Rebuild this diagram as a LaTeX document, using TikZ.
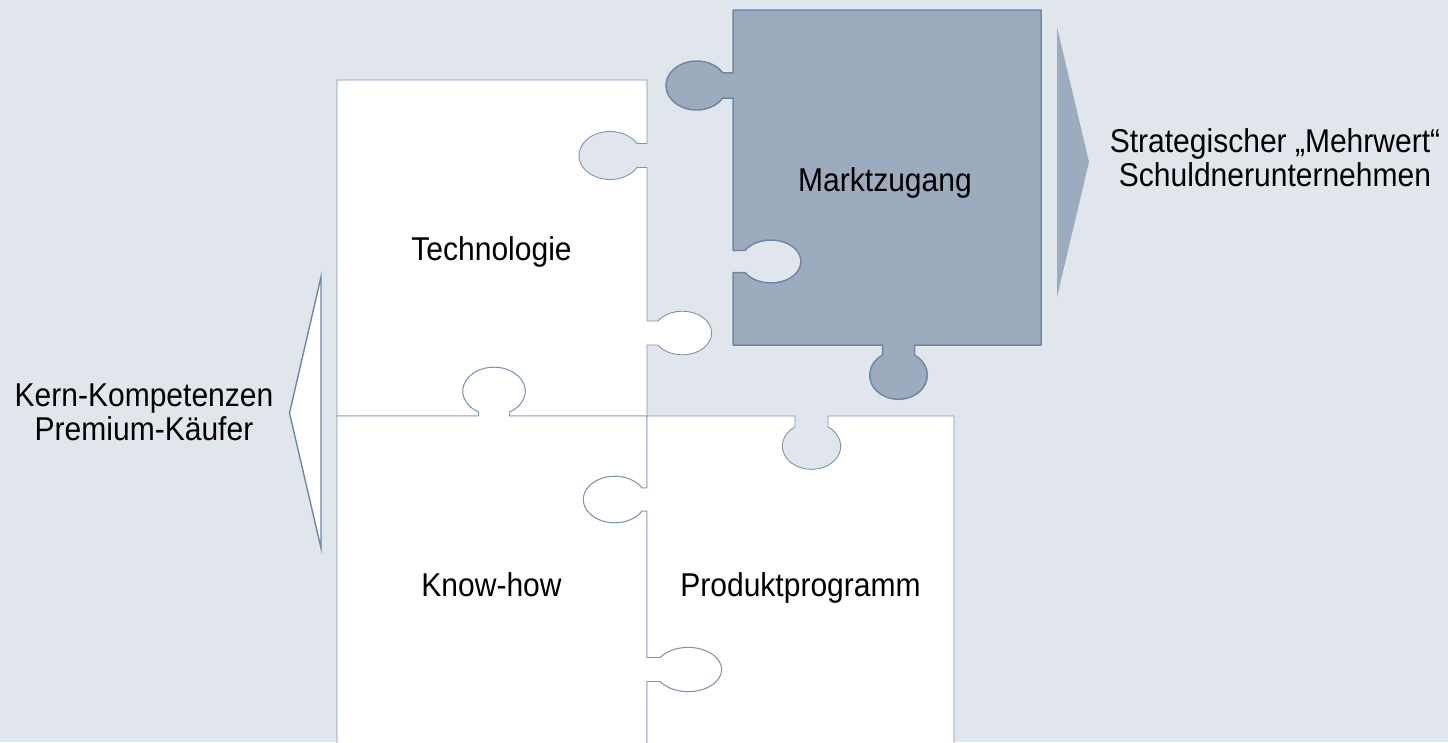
\documentclass[tikz,border=0pt]{standalone}
\usepackage{fontspec}
\setmainfont{Liberation Sans}[FakeStretch=0.91]
\definecolor{bgc}{HTML}{E1E6EC}
\definecolor{darkfill}{HTML}{9DABBE}
\definecolor{darkline}{HTML}{6F87A5}
\definecolor{pieceline}{HTML}{7D93B0}
\begin{document}
\begin{tikzpicture}[x=1pt,y=1pt,
  lbl/.style={font=\fontsize{33}{34}\selectfont, inner sep=0pt, align=center, text=black},
  whitepiece/.style={fill=white, draw=pieceline, line width=0.9pt, line join=round},
  darkpiece/.style={fill=darkfill, draw=darkline, line width=1.5pt, line join=round},
  leftarrow/.style={fill=white, draw=darkline, line width=1.4pt, line join=miter},
  rightarrow/.style={fill=darkfill}]
\fill[bgc] (0,0) rectangle (1448,-742);
\useasboundingbox (0,0) rectangle (1448,-742);
% Technologie
\path[whitepiece] (337,-80) -- (647,-80) -- (647,-143.5) -- (637,-143.5)
  arc[start angle=30, end angle=330, x radius=31.1, y radius=24] -- (647,-167.5)
  -- (647,-321) -- (657.9,-321)
  arc[start angle=146.6, end angle=-146.6, x radius=29.3, y radius=21.8] -- (647,-345)
  -- (647,-416) -- (509.5,-416) -- (509.5,-411.9)
  arc[start angle=-60.2, end angle=240.2, x radius=31.2, y radius=23.9] -- (478.5,-416)
  -- (337,-416) -- cycle;
% Know-how
\path[whitepiece] (337,-416) -- (478.5,-416) -- (478.5,-411.9)
  arc[start angle=240.2, end angle=-60.2, x radius=31.2, y radius=23.9] -- (509.5,-416)
  -- (647,-416) -- (647,-488) -- (642,-488)
  arc[start angle=29.7, end angle=330.3, x radius=31.4, y radius=23.2] -- (647,-511)
  -- (647,-657.5) -- (660,-657.5)
  arc[start angle=147.3, end angle=-147.3, x radius=33.5, y radius=22.2] -- (647,-681.5)
  -- (647,-750) -- (337,-750) -- cycle;
% Produktprogramm
\path[whitepiece] (647,-416) -- (795,-416) -- (795,-427)
  arc[start angle=124.4, end angle=415.6, x radius=29.2, y radius=23.2] -- (828,-416)
  -- (954,-416) -- (954,-750) -- (647,-750) -- (647,-681.5) -- (660,-681.5)
  arc[start angle=-147.3, end angle=147.3, x radius=33.5, y radius=22.2] -- (647,-657.5)
  -- (647,-511) -- (642,-511)
  arc[start angle=330.3, end angle=29.7, x radius=31.4, y radius=23.2] -- (647,-488)
  -- cycle;
% Marktzugang
\path[darkpiece] (733,-10) -- (1041,-10) -- (1041,-345) -- (914.5,-345) -- (914.5,-355)
  arc[start angle=56.25, end angle=-236.25, x radius=28.8, y radius=24.2] -- (882.5,-345)
  -- (733,-345) -- (733,-272.5) -- (745,-272.5)
  arc[start angle=-149.2, end angle=149.2, x radius=30.1, y radius=21.5] -- (733,-250.5)
  -- (733,-98) -- (722.9,-98)
  arc[start angle=329.3, end angle=30.7, x radius=30.6, y radius=24.5] -- (733,-73)
  -- cycle;
% arrows
\path[leftarrow] (321,-277) -- (321,-548) -- (289.5,-413) -- cycle;
\path[rightarrow] (1057,-27) -- (1057,-297) -- (1089,-162) -- cycle;
% labels
\node[lbl, anchor=base] (tech) at (491.5,-260.7) {Technologie};
\node[lbl, anchor=base] (mz) at (885,-191) {Marktzugang};
\node[lbl, anchor=base] (kh) at (491.5,-596) {Know-how};
\node[lbl, anchor=base] (pp) at (800.5,-596) {Produktprogramm};
\node[lbl, anchor=base] (kern) at (144,-440.5) {Kern-Kompetenzen\\Premium-Käufer};
\node[lbl, anchor=base] (strat) at (1275,-186.7) {Strategischer „Mehrwert“\\Schuldnerunternehmen};
\end{tikzpicture}
\end{document}
